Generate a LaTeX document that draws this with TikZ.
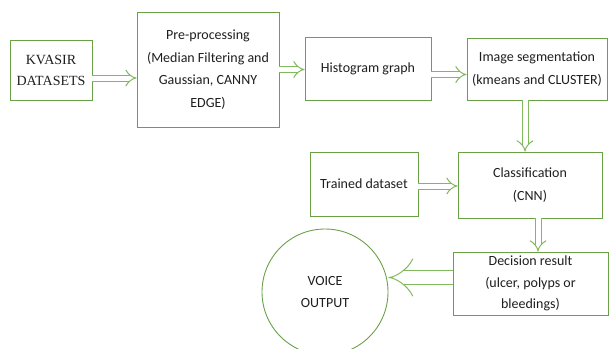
\documentclass[tikz,border=0pt]{standalone}
\usepackage{fontspec}
\setmainfont{Carlito}
\newfontfamily\kvfont{Liberation Serif}
\usetikzlibrary{arrows.meta}

\definecolor{boxgreen}{RGB}{106,160,70}
\definecolor{arrowgreen}{RGB}{130,185,95}
\definecolor{txtgray}{RGB}{30,30,30}

\begin{document}
\begin{tikzpicture}
[
	              x = 1pt,
	              y = -1pt,
	  block/.style = { draw=boxgreen, line width=0.9pt, align=center, inner sep=2pt,
	                   text=txtgray, font=\fontsize{14}{22.5}\selectfont },
	   flow/.style = { draw=arrowgreen, double=white, double distance=5pt, line width=1pt,
	                   -{Implies[length=6pt, width=10pt]} },
	 bigflow/.style = { flow, double distance=13pt, -{Implies[length=8pt, width=22pt]} }
]
	\useasboundingbox (0,0) rectangle (609,348);

	% top row
	% nodes
	\node (K) at (51,70)    [block, minimum width=82pt,  minimum height=60pt, font=\kvfont\fontsize{14}{21}\selectfont] {KVASIR\\DATASETS};
	\node (P) at (208,69.5) [block, minimum width=142pt, minimum height=115pt] {Pre-processing\\(Median Filtering and\\Gaussian, CANNY\\EDGE)};
	\node (H) at (368,68.5) [block, minimum width=126pt, minimum height=63pt] {Histogram graph};
	\node (S) at (537,69)   [block, minimum width=140pt, minimum height=62pt] {Image segmentation\\(kmeans and CLUSTER)};

	% lower rows
	% nodes
	\node (T) at (364,184)  [block, minimum width=108pt, minimum height=64pt] {Trained dataset};
	\node (C) at (530,185)  [block, minimum width=144pt, minimum height=66pt] {Classification\\(CNN)};
	\node (D) at (530.5,283.5) [block, minimum width=155pt, minimum height=63pt, inner sep=0pt,
	                            font=\fontsize{14}{21.5}\selectfont] {Decision result\\(ulcer, polyps or\\bleedings)};
	\node (V) at (325,292)  [block, circle, minimum size=126pt] {VOICE\\OUTPUT};

	% edges
	\draw [flow] ([yshift=-8pt]K.east) -- ([yshift=-8pt]K.east -| P.west);
	\draw [flow] (P.east) -- (P.east -| H.west);
	\draw [flow] ([yshift=-6pt]H.east) -- ([yshift=-6pt]H.east -| S.west);
	\draw [flow] ([xshift=-12pt]S.south) -- ([xshift=-12pt]S.south |- C.north);
	\draw [flow] ([yshift=-2pt]T.east) -- ([yshift=-2pt]T.east -| C.west);
	\draw [flow] ([xshift=8pt]C.south) -- ([xshift=8pt]C.south |- D.north);
	\draw [bigflow] ([yshift=6pt]D.west) -- ([yshift=6pt]D.west -| V.east);
\end{tikzpicture}
\end{document}
